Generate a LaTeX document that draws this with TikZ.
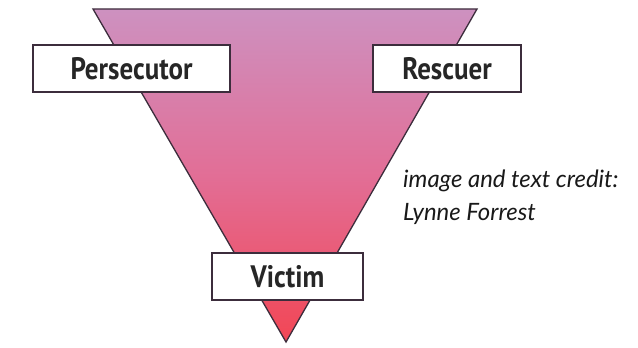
\documentclass[tikz,border=0pt]{standalone}
\usepackage{fontspec}
\setmainfont{PT Sans}
\newfontfamily\rolefont[FakeStretch=0.87]{PT Sans Bold}
\newfontfamily\creditfont{Lato}
\usepackage{tikz}
\usetikzlibrary{positioning}

\definecolor{topPink}{RGB}{205,145,192}
\definecolor{midPink}{RGB}{226,110,150}
\definecolor{botRed}{RGB}{242,70,85}
\definecolor{edgeGray}{RGB}{60,45,60}

\begin{document}
\begin{tikzpicture}[x=1pt, y=1pt,
		role/.style={draw=edgeGray, line width=1.6pt, fill=white, minimum height=47pt, inner sep=0pt, font=\rolefont\fontsize{31}{34}\selectfont, text=black!85}]
		\useasboundingbox (0,0) rectangle (638,348);
		\coordinate (TL) at (93,339);
		\coordinate (TR) at (477,339);
		\coordinate (B) at (286,6);
		
		\shade[top color=topPink, bottom color=botRed, middle color=midPink, draw=edgeGray, line width=1.3pt, line join=miter] (TL) -- (TR) -- (B) -- cycle;
		
		\node[role, minimum width=197pt] (Pers) at (131.5,279.5) {Persecutor};
		\node[role, minimum width=148pt] (Resc) at (447,279.5) {Rescuer};
		\node[role, minimum width=151pt] (Vict) at (287.5,71.5) {Victim};
		
		\node[anchor=west, align=left, inner sep=0pt, font=\creditfont\itshape\fontsize{23.9}{33}\selectfont, text=black!90] (credit) at (403,151) {image and text credit:\\Lynne Forrest};
		
		\end{tikzpicture}
\end{document}
